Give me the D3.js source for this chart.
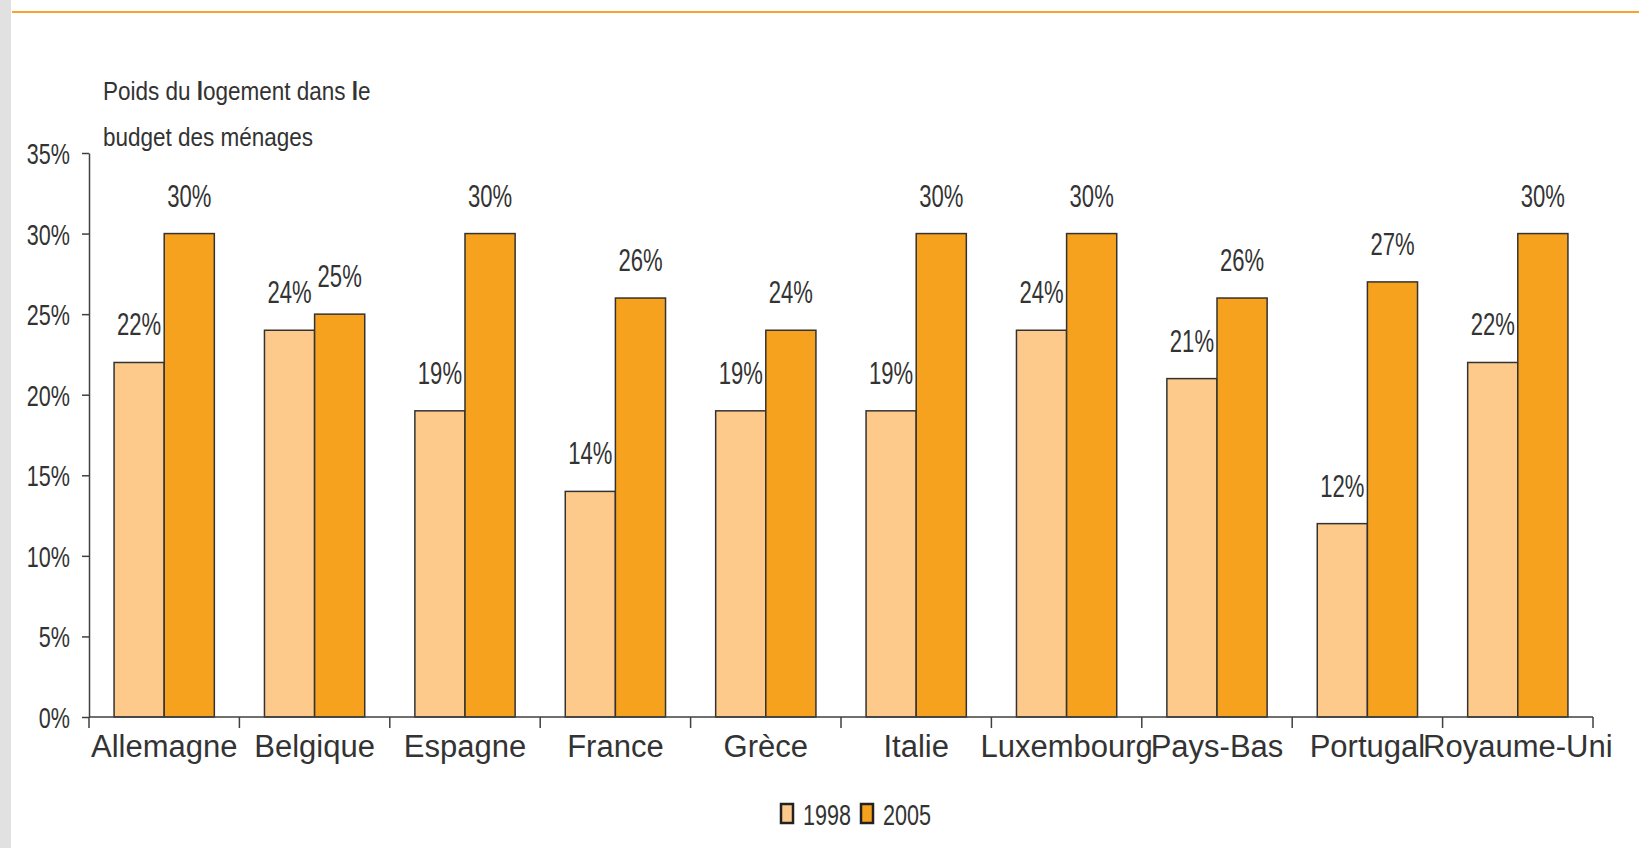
<!DOCTYPE html>
<html>
<head>
<meta charset="utf-8">
<script src="https://cdn.jsdelivr.net/npm/d3@7"></script>
<style>
  html, body { margin: 0; padding: 0; background: #fff; }
  svg text { font-family: "Liberation Sans", Arial, sans-serif; fill: #333; }
</style>
</head>
<body>
<div id="plot"></div>
<script>
// data
const countries = ["Allemagne", "Belgique", "Espagne", "France", "Grèce", "Italie", "Luxembourg", "Pays-Bas", "Portugal", "Royaume-Uni"];
const years = ["1998", "2005"];
const values1998 = [22, 24, 19, 14, 19, 19, 24, 21, 12, 22];
const values2005 = [30, 25, 30, 26, 24, 30, 30, 26, 27, 30];
const yTicks = [0, 5, 10, 15, 20, 25, 30, 35];
const titleLines = [
    [["Poids du ", false], ["l", true], ["ogement dans ", false], ["l", true], ["e", false]],
    [["budget des ménages", false]]
];

const colors = { "1998": "#fdca8b", "2005": "#f6a21e" };

const width = 1639, height = 848;
const svg = d3.select("#plot").append("svg")
    .attr("width", width)
    .attr("height", height);

// page frame: grey strip left, orange rule on top
svg.append("rect").attr("x", 0).attr("y", 0).attr("width", 11).attr("height", height).attr("fill", "#e1e1e1");
svg.append("line").attr("x1", 12).attr("x2", width).attr("y1", 12).attr("y2", 12)
    .attr("stroke", "#f7a428").attr("stroke-width", 2);

const data = countries.map((c, i) => ({ country: c, "1998": values1998[i], "2005": values2005[i] }));

const x = d3.scaleBand().domain(countries).range([89, 1593]).paddingInner(0).paddingOuter(0);
const xSub = d3.scaleBand().domain(years).range([0, x.bandwidth()]).paddingInner(0).paddingOuter(0.5);
const y = d3.scaleLinear().domain([0, 35]).range([717, 153]);

// condensed text helper (the source uses a narrow face)
function narrowText(g, tx, ty, str, size, sx, anchor) {
    return g.append("text")
        .attr("transform", `translate(${tx},${ty}) scale(${sx},1)`)
        .attr("text-anchor", anchor)
        .style("font-size", size + "px")
        .text(str);
}

// bars
const groups = svg.selectAll("g.country")
    .data(data)
    .enter()
    .append("g")
    .attr("class", "country")
    .attr("transform", d => `translate(${x(d.country)},0)`);

groups.selectAll("rect")
    .data(d => years.map(k => ({ key: k, value: d[k] })))
    .enter()
    .append("rect")
    .attr("x", d => xSub(d.key))
    .attr("y", d => y(d.value))
    .attr("width", xSub.bandwidth())
    .attr("height", d => y(0) - y(d.value))
    .attr("fill", d => colors[d.key])
    .attr("stroke", "#333")
    .attr("stroke-width", 1.5);

groups.each(function(d) {
    const g = d3.select(this);
    years.forEach(k => {
        narrowText(g, xSub(k) + xSub.bandwidth() / 2, y(d[k]) - 27, d[k] + "%", 32, 0.69, "middle");
    });
});

// y axis
const yAxis = svg.append("g")
    .attr("transform", "translate(89,0)")
    .call(d3.axisLeft(y).tickValues(yTicks).tickSize(7).tickSizeOuter(0).tickFormat(""));
yAxis.select(".domain").attr("stroke", "#404040").attr("stroke-width", 1.5);
yAxis.selectAll(".tick line").attr("stroke", "#404040").attr("stroke-width", 1.5);
yTicks.forEach(t => {
    narrowText(svg, 70, y(t) + 11, t + "%", 30, 0.72, "end");
});

// x axis: ticks sit on the category boundaries
const xEdges = countries.map(c => x(c)).concat([x.range()[1]]);
svg.append("line")
    .attr("x1", x.range()[0]).attr("x2", x.range()[1])
    .attr("y1", y(0)).attr("y2", y(0))
    .attr("stroke", "#404040").attr("stroke-width", 1.5);
svg.selectAll("line.xtick")
    .data(xEdges)
    .enter()
    .append("line")
    .attr("class", "xtick")
    .attr("x1", d => d).attr("x2", d => d)
    .attr("y1", y(0)).attr("y2", y(0) + 11)
    .attr("stroke", "#404040").attr("stroke-width", 1.5);
svg.selectAll("text.xlabel")
    .data(countries)
    .enter()
    .append("text")
    .attr("class", "xlabel")
    .attr("x", d => x(d) + x.bandwidth() / 2)
    .attr("y", 757)
    .attr("text-anchor", "middle")
    .style("font-size", "31px")
    .text(d => d);

// title
titleLines.forEach((line, i) => {
    const t = svg.append("text")
        .attr("transform", `translate(103,${100 + i * 46}) scale(0.9,1)`)
        .style("font-size", "25px");
    line.forEach(([s, bold]) => {
        t.append("tspan").style("font-weight", bold ? "bold" : "normal").text(s);
    });
});

// legend
const legend = svg.append("g");
const legendX = [781, 861];
years.forEach((k, i) => {
    legend.append("rect")
        .attr("x", legendX[i]).attr("y", 804)
        .attr("width", 12).attr("height", 19)
        .attr("fill", colors[k])
        .attr("stroke", "#222").attr("stroke-width", 2.5);
    narrowText(legend, legendX[i] + 22, 825, k, 30, 0.72, "start");
});
</script>
</body>
</html>
